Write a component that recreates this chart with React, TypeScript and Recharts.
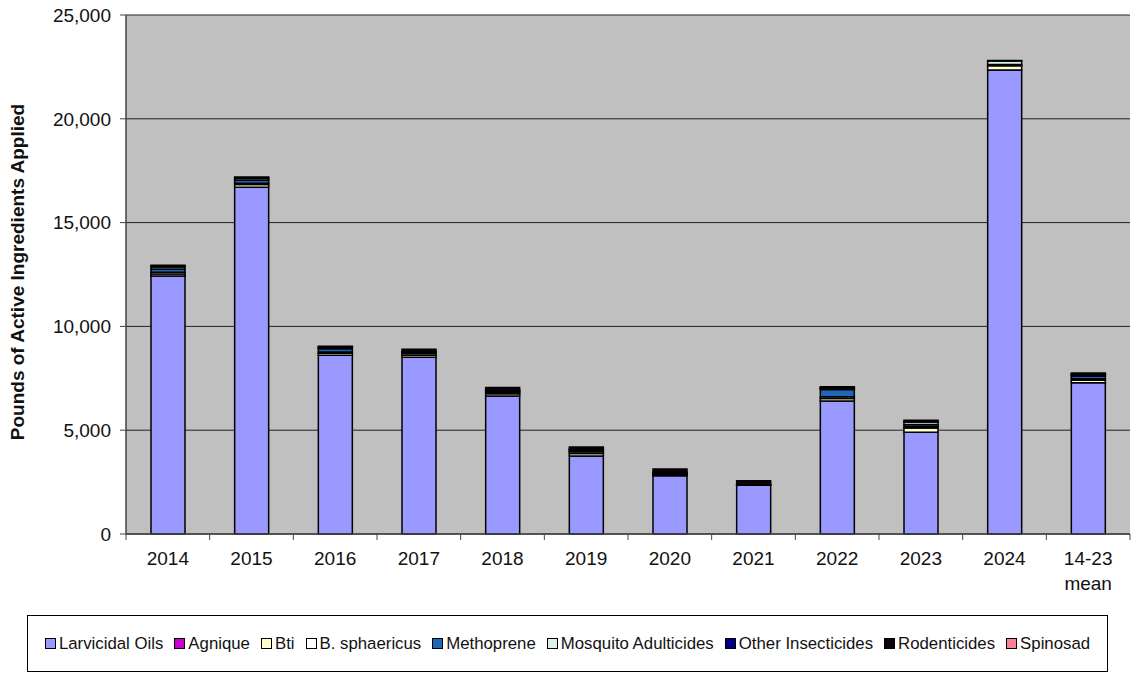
import * as React from "react";
import { BarChart, Bar, XAxis, YAxis, CartesianGrid } from "recharts";

const years = ["2014", "2015", "2016", "2017", "2018", "2019", "2020", "2021", "2022", "2023", "2024", "14-23\nmean"];

const larvicidalOils = [12430, 16700, 8610, 8510, 6650, 3760, 2800, 2350, 6410, 4900, 22350, 7290];
const agnique = [0, 0, 0, 0, 0, 0, 0, 0, 0, 0, 0, 0];
const bti = [100, 130, 100, 100, 100, 120, 60, 0, 120, 200, 200, 120];
const bSphaericus = [80, 60, 60, 80, 80, 80, 60, 0, 80, 80, 60, 70];
const methoprene = [150, 150, 150, 0, 0, 40, 0, 0, 350, 100, 0, 130];
const mosquitoAdulticides = [100, 80, 60, 60, 60, 60, 40, 20, 60, 120, 180, 60];
const otherInsecticides = [40, 30, 20, 30, 20, 30, 20, 10, 30, 40, 20, 30];
const rodenticides = [40, 50, 40, 120, 150, 100, 150, 190, 40, 40, 0, 50];
const spinosad = [0, 0, 0, 0, 0, 0, 0, 0, 0, 0, 0, 0];

const yTicks = [0, 5000, 10000, 15000, 20000, 25000];

const series = [
  { key: "larvicidal", name: "Larvicidal Oils", color: "#9999FF", values: larvicidalOils },
  { key: "agnique", name: "Agnique", color: "#CC00CC", values: agnique },
  { key: "bti", name: "Bti", color: "#FFFFCC", values: bti },
  { key: "bsph", name: "B. sphaericus", color: "#FFFFFF", values: bSphaericus },
  { key: "methoprene", name: "Methoprene", color: "#1F66B8", values: methoprene },
  { key: "adulticides", name: "Mosquito Adulticides", color: "#DDEEEE", values: mosquitoAdulticides },
  { key: "other", name: "Other Insecticides", color: "#000080", values: otherInsecticides },
  { key: "rodenticides", name: "Rodenticides", color: "#100010", values: rodenticides },
  { key: "spinosad", name: "Spinosad", color: "#FF8099", values: spinosad },
];

const data = years.map((year, i) => {
  const row: Record<string, string | number> = { year };
  series.forEach((s) => {
    row[s.key] = s.values[i];
  });
  return row;
});

const FONT = "'Liberation Sans', Arial, sans-serif";
const PLOT_LEFT = 126;
const PLOT_RIGHT = 1130;
const BAND = (PLOT_RIGHT - PLOT_LEFT) / years.length;

const CategoryTick = (props: any) => {
  const { x, y, payload, index } = props;
  const lines = String(payload.value).split("\n");
  const left = x - BAND / 2;
  return (
    <g>
      <line x1={left} x2={left} y1={y} y2={y + 6} stroke="#444" />
      {index === years.length - 1 && (
        <line x1={left + BAND} x2={left + BAND} y1={y} y2={y + 6} stroke="#444" />
      )}
      <text x={x} y={y + 31} textAnchor="middle" fontFamily={FONT} fontSize={19} fill="#111">
        {lines.map((l, i) => (
          <tspan key={i} x={x} dy={i === 0 ? 0 : 25}>
            {l}
          </tspan>
        ))}
      </text>
    </g>
  );
};

export default function App() {
  return (
    <div style={{ position: "absolute", left: 0, top: 0, width: 1133, height: 681, background: "#fff" }}>
      <BarChart
        width={1133}
        height={600}
        data={data}
        margin={{ top: 15, right: 1133 - PLOT_RIGHT, bottom: 0, left: 0 }}
        barSize={34}
      >
        <CartesianGrid vertical={false} stroke="#222" strokeWidth={1} fill="#C0C0C0" />
        <XAxis
          dataKey="year"
          height={66}
          interval={0}
          tickLine={false}
          tickSize={0}
          tickMargin={0}
          axisLine={{ stroke: "#444", strokeWidth: 1.5 }}
          tick={<CategoryTick />}
        />
        <YAxis
          width={PLOT_LEFT}
          domain={[0, 25000]}
          ticks={yTicks}
          interval={0}
          tickSize={6}
          tickMargin={9}
          tickLine={{ stroke: "#444" }}
          axisLine={{ stroke: "#444", strokeWidth: 1.5 }}
          tickFormatter={(v: number) => v.toLocaleString("en-US")}
          tick={{ fontFamily: FONT, fontSize: 19, fill: "#111" }}
          label={{
            content: () => (
              <text
                x={24}
                y={272}
                transform="rotate(-90 24 272)"
                textAnchor="middle"
                fontFamily={FONT}
                fontWeight="bold"
                fontSize={19}
                fill="#111"
              >
                Pounds of Active Ingredients Applied
              </text>
            ),
          }}
        />
        {series.map((s) => (
          <Bar
            key={s.key}
            dataKey={s.key}
            name={s.name}
            stackId="a"
            fill={s.color}
            stroke="#000"
            strokeWidth={1.5}
            isAnimationActive={false}
          />
        ))}
      </BarChart>
      <div
        style={{
          position: "absolute",
          left: 27,
          top: 615,
          width: 1081,
          height: 57,
          boxSizing: "border-box",
          border: "1px solid #000",
          display: "flex",
          alignItems: "center",
          justifyContent: "center",
          gap: 11,
          fontFamily: FONT,
          fontSize: 16.8,
          color: "#111",
          whiteSpace: "nowrap",
        }}
      >
        {series.map((s) => (
          <span key={s.key} style={{ display: "flex", alignItems: "center" }}>
            <span
              style={{
                display: "inline-block",
                width: 9,
                height: 9,
                border: "1px solid #000",
                background: s.color,
                marginRight: 3,
              }}
            />
            {s.name}
          </span>
        ))}
      </div>
    </div>
  );
}
